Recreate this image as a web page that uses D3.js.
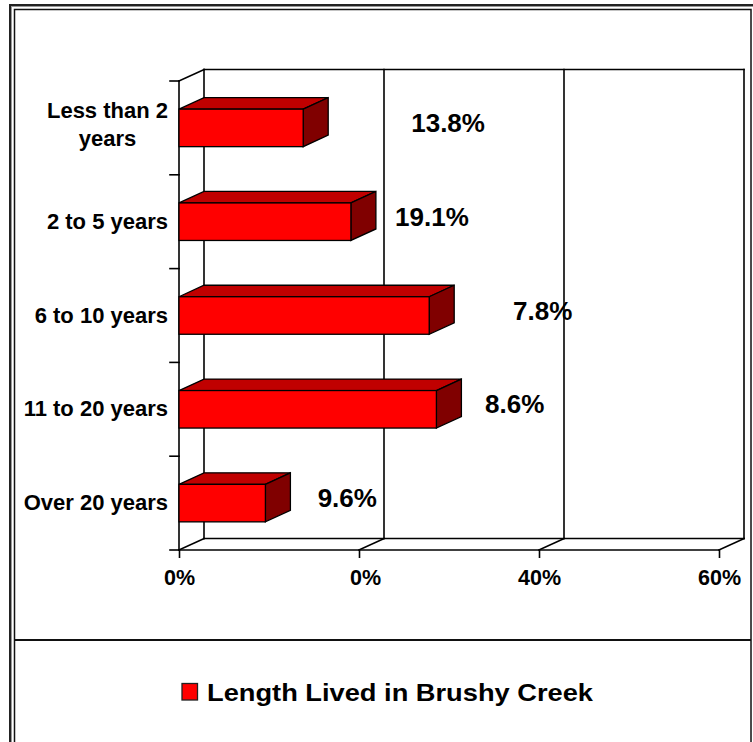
<!DOCTYPE html>
<html>
<head>
<meta charset="utf-8">
<script src="https://cdn.jsdelivr.net/npm/d3@7"></script>
<style>
  html, body { margin: 0; padding: 0; background: #fff; }
  svg { display: block; }
  text { font-family: "Liberation Sans", Arial, Helvetica, sans-serif; font-weight: bold; fill: #000; }
</style>
</head>
<body>
<svg id="chart" width="753" height="742"></svg>
<script>
// ---- data ----
const categories = ["Less than 2\nyears", "2 to 5 years", "6 to 10 years", "11 to 20 years", "Over 20 years"];
const values = [13.8, 19.1, 27.8, 28.6, 9.6];
const valueLabels = ["13.8%", "19.1%", "7.8%", "8.6%", "9.6%"];
const valueLabelAt = [29.9, 28.1, 39.6, 36.5, 18.7];
const tickValues = [0, 20, 40, 60];
const tickLabels = ["0%", "0%", "40%", "60%"];
const seriesName = "Length Lived in Brushy Creek";

// ---- layout ----
const svg = d3.select("#chart");
const W = 753, H = 742;
const plotTop = 81, plotBottom = 550;
const dx = 25, dy = -11.5;
const x = d3.scaleLinear().domain([0, 60]).range([179, 719]);
const y = d3.scaleBand().domain(categories).range([plotTop, plotBottom]).paddingInner(0.6).paddingOuter(0.3);
const x0 = x(0);
const lineW = 1.6;
const catFont = 22, tickFont = 21.5;

svg.append("rect").attr("width", W).attr("height", H).attr("fill", "#fff");

// frame
svg.append("rect").attr("x", 10).attr("y", 5).attr("width", 760).attr("height", 760)
  .attr("fill", "none").attr("stroke", "#222").attr("stroke-width", 2);
svg.append("rect").attr("x", 11.5).attr("y", 6.5).attr("width", 760).attr("height", 760)
  .attr("fill", "none").attr("stroke", "#999").attr("stroke-width", 1);
svg.append("rect").attr("x", 14.5).attr("y", 9.5).attr("width", 736.5).attr("height", 760)
  .attr("fill", "none").attr("stroke", "#111").attr("stroke-width", 1.5);
svg.append("line").attr("x1", 14.5).attr("x2", 751).attr("y1", 640).attr("y2", 640)
  .attr("stroke", "#111").attr("stroke-width", 1.8);

const g = svg.append("g");
const ln = (x1, y1, x2, y2) => g.append("line")
  .attr("x1", x1).attr("y1", y1).attr("x2", x2).attr("y2", y2)
  .attr("stroke", "#000").attr("stroke-width", lineW).attr("stroke-linecap", "square");

// back wall
ln(x0 + dx, plotTop + dy, x(60) + dx, plotTop + dy);
tickValues.forEach(v => ln(x(v) + dx, plotTop + dy, x(v) + dx, plotBottom + dy));
// floor
ln(x0 + dx, plotBottom + dy, x(60) + dx, plotBottom + dy);
ln(x0, plotBottom, x(60), plotBottom);
tickValues.forEach(v => ln(x(v), plotBottom, x(v) + dx, plotBottom + dy));
// left wall
ln(x0, plotTop, x0, plotBottom);
ln(x0, plotTop, x0 + dx, plotTop + dy);
// category ticks at band boundaries
const step = y.step();
d3.range(categories.length + 1).forEach(i => {
  const yy = plotTop + i * step;
  ln(x0 - 9, yy, x0, yy);
});

// bottom axis
const axis = d3.axisBottom(x).tickValues(tickValues).tickSize(8).tickPadding(0)
  .tickFormat((d, i) => tickLabels[i]);
const ax = svg.append("g").attr("transform", `translate(0,${plotBottom})`).call(axis);
ax.select(".domain").remove();
ax.selectAll(".tick line").attr("stroke", "#000").attr("stroke-width", lineW);
ax.selectAll(".tick text")
  .attr("font-size", tickFont).attr("font-family", null)
  .attr("dy", null).attr("y", 35)
  .each(function(d) {
    // labels keep the right edge of the full-width label (leading digit hidden)
    const full = d + "%";
    const t = d3.select(this);
    const tmp = svg.append("text").attr("font-size", tickFont).text(full);
    const wf = tmp.node().getComputedTextLength();
    tmp.remove();
    t.attr("text-anchor", "end").attr("x", wf / 2);
  });

// bars
const bars = svg.append("g");
categories.forEach((c, i) => {
  const yb = y(c), bw = y.bandwidth(), xv = x(values[i]);
  const b = bars.append("g").attr("stroke", "#000").attr("stroke-width", 1.3).attr("stroke-linejoin", "miter");
  b.append("polygon")
    .attr("points", [[x0, yb], [x0 + dx, yb + dy], [xv + dx, yb + dy], [xv, yb]].map(p => p.join(",")).join(" "))
    .attr("fill", "#C00000");
  b.append("polygon")
    .attr("points", [[xv, yb], [xv + dx, yb + dy], [xv + dx, yb + bw + dy], [xv, yb + bw]].map(p => p.join(",")).join(" "))
    .attr("fill", "#800000");
  b.append("rect").attr("x", x0).attr("y", yb).attr("width", xv - x0).attr("height", bw)
    .attr("fill", "#FF0000");
});

// value labels (right edge where full label would end)
categories.forEach((c, i) => {
  const cy = y(c) + y.bandwidth() / 2;
  const full = values[i].toFixed(1) + "%";
  const tmp = svg.append("text").attr("font-size", 26).text(full);
  const wf = tmp.node().getComputedTextLength();
  tmp.remove();
  svg.append("text")
    .attr("x", x(valueLabelAt[i]) + wf / 2)
    .attr("y", cy + 4)
    .attr("text-anchor", "end")
    .attr("font-size", 26)
    .text(valueLabels[i]);
});

// category labels
categories.forEach((c, i) => {
  const lines = c.split("\n");
  const cy = y(c) + y.bandwidth() / 2;
  const lh = 28.5;
  const t = svg.append("text").attr("font-size", catFont);
  lines.forEach((l, j) => {
    t.append("tspan").attr("y", cy + 7 - (lines.length - 1) * lh / 2 - (lines.length > 1 ? 3 : 0) + j * lh).text(l);
  });
  // right-align the block, center lines within
  let maxW = 0;
  t.selectAll("tspan").each(function() { maxW = Math.max(maxW, this.getComputedTextLength()); });
  const right = 168;
  t.attr("text-anchor", "middle");
  t.selectAll("tspan").attr("x", right - maxW / 2);
});

// legend
const lg = svg.append("g");
lg.append("rect").attr("x", 182).attr("y", 683.5).attr("width", 15.5).attr("height", 16.5)
  .attr("fill", "#FF0000").attr("stroke", "#222").attr("stroke-width", 1.3);
lg.append("text").attr("x", 207).attr("y", 700.5).attr("font-size", 24.5)
  .attr("textLength", 386).attr("lengthAdjust", "spacingAndGlyphs").text(seriesName);
</script>
</body>
</html>
